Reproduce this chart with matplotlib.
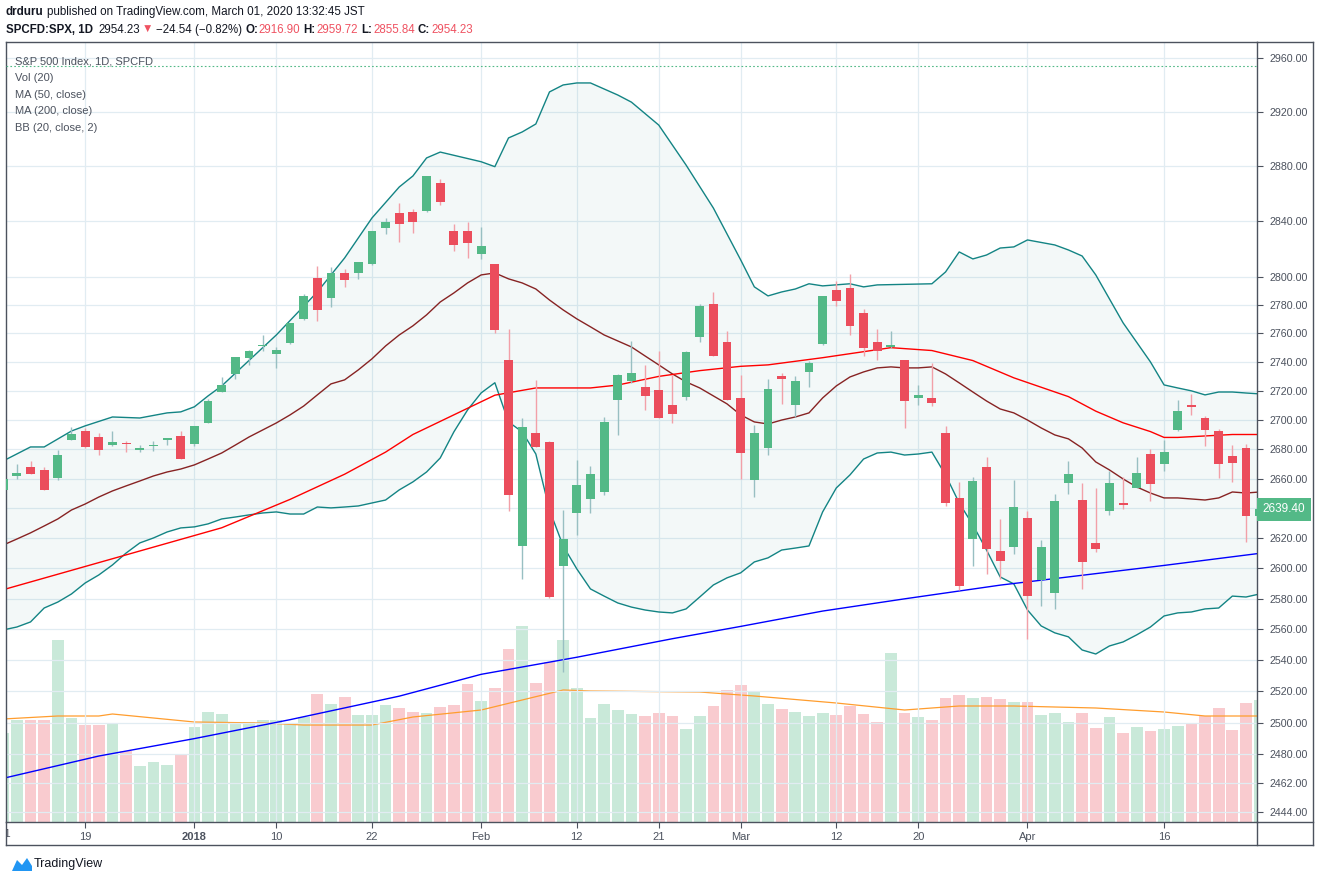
import numpy as np
import matplotlib.pyplot as plt
from matplotlib.lines import Line2D
from matplotlib.patches import Polygon
from matplotlib.transforms import Bbox, TransformedBbox, blended_transform_factory

FONT = ['Liberation Sans', 'DejaVu Sans']
plt.rcParams['font.family'] = FONT

# daily bars, Dec 11 2017 .. Apr 25 2018 (SPCFD:SPX)
opens = [2652.19, 2661.73, 2667.59, 2665.87, 2660.63, 2685.92, 2692.71, 2688.18, 2683.02, 2684.22,
         2679.09, 2682.10, 2686.10, 2689.15, 2683.73, 2697.85, 2719.31, 2731.33, 2742.67, 2751.15,
         2745.55, 2752.97, 2770.18, 2798.96, 2784.99, 2802.40, 2802.60, 2809.16, 2835.05, 2845.42,
         2846.24, 2847.48, 2867.23, 2832.74, 2832.41, 2816.45, 2808.92, 2741.06, 2614.78, 2690.95,
         2685.01, 2601.78, 2636.75, 2646.27, 2651.21, 2713.46, 2727.14, 2722.99, 2720.53, 2710.42,
         2715.80, 2757.37, 2780.45, 2753.78, 2715.22, 2658.89, 2681.06, 2730.18, 2710.18, 2732.75,
         2752.91, 2790.54, 2792.31, 2774.06, 2754.27, 2750.57, 2741.38, 2715.05, 2714.99, 2691.36,
         2646.71, 2619.35, 2667.57, 2611.30, 2614.41, 2633.45, 2592.17, 2584.04, 2657.36, 2645.82,
         2617.18, 2638.41, 2643.89, 2653.83, 2676.90, 2670.10, 2692.74, 2710.11, 2701.16, 2692.56,
         2675.40, 2680.80, 2634.92]
highs = [2660.33, 2669.72, 2671.88, 2668.09, 2679.63, 2694.97, 2694.44, 2691.01, 2692.64, 2685.35,
         2682.74, 2685.64, 2687.66, 2692.12, 2695.89, 2714.37, 2729.29, 2743.45, 2748.51, 2759.14,
         2750.80, 2767.56, 2787.85, 2807.54, 2807.04, 2805.83, 2810.33, 2833.03, 2842.24, 2852.97,
         2848.56, 2872.87, 2870.62, 2837.75, 2839.26, 2835.96, 2808.92, 2763.39, 2701.04, 2727.67,
         2685.27, 2638.67, 2672.61, 2668.84, 2702.10, 2731.51, 2754.42, 2737.60, 2747.75, 2731.26,
         2747.76, 2780.64, 2789.15, 2761.52, 2730.89, 2696.25, 2728.09, 2732.08, 2730.60, 2740.45,
         2786.57, 2796.98, 2801.90, 2777.11, 2763.03, 2761.85, 2741.38, 2724.22, 2739.14, 2695.68,
         2657.67, 2661.36, 2674.78, 2632.65, 2659.07, 2638.30, 2619.14, 2649.86, 2672.08, 2656.88,
         2653.55, 2665.45, 2661.43, 2674.72, 2680.26, 2686.49, 2713.34, 2717.49, 2702.84, 2693.94,
         2682.86, 2683.55, 2645.30]
lows = [2651.47, 2659.78, 2662.85, 2652.01, 2659.14, 2685.92, 2680.74, 2676.11, 2682.40, 2678.13,
        2677.96, 2678.91, 2682.69, 2673.61, 2682.36, 2697.77, 2719.07, 2727.92, 2737.60, 2747.86,
        2736.06, 2752.78, 2769.64, 2768.64, 2778.38, 2792.56, 2798.08, 2808.12, 2830.59, 2824.81,
        2830.94, 2846.18, 2851.48, 2818.27, 2813.04, 2812.70, 2759.97, 2638.17, 2593.07, 2681.33,
        2580.56, 2532.69, 2622.45, 2637.08, 2648.87, 2689.82, 2725.11, 2706.76, 2701.29, 2697.77,
        2713.74, 2753.78, 2744.22, 2713.54, 2659.65, 2647.32, 2675.75, 2711.26, 2701.74, 2722.65,
        2751.54, 2779.26, 2758.68, 2744.38, 2741.47, 2749.97, 2694.59, 2710.05, 2709.79, 2641.59,
        2585.89, 2601.81, 2596.12, 2593.06, 2609.72, 2553.80, 2575.49, 2573.61, 2649.58, 2586.27,
        2610.79, 2635.78, 2639.25, 2653.83, 2645.05, 2665.16, 2692.05, 2703.63, 2681.90, 2660.61,
        2657.99, 2617.32, 2612.67]
closes = [2659.99, 2664.11, 2662.85, 2652.01, 2675.81, 2690.16, 2681.47, 2679.25, 2684.57, 2683.34,
          2680.50, 2682.62, 2687.54, 2673.61, 2695.81, 2713.06, 2723.99, 2743.15, 2747.71, 2751.29,
          2748.23, 2767.56, 2786.24, 2776.42, 2802.56, 2798.03, 2810.30, 2832.97, 2839.13, 2837.54,
          2839.25, 2872.87, 2853.53, 2822.43, 2823.81, 2821.98, 2762.13, 2648.94, 2695.14, 2681.66,
          2581.00, 2619.55, 2656.00, 2662.94, 2698.63, 2731.20, 2732.22, 2716.26, 2701.33, 2703.96,
          2747.30, 2779.60, 2744.28, 2713.83, 2677.67, 2691.25, 2720.94, 2728.12, 2726.80, 2738.97,
          2786.57, 2783.02, 2765.31, 2749.48, 2747.33, 2752.01, 2712.92, 2716.94, 2711.93, 2643.69,
          2588.26, 2658.55, 2612.62, 2605.00, 2640.87, 2581.88, 2614.45, 2644.69, 2662.84, 2604.47,
          2613.16, 2656.87, 2642.19, 2663.99, 2656.30, 2677.84, 2706.39, 2708.64, 2693.13, 2670.14,
          2670.29, 2634.56, 2639.40]

# volume (relative units, no scale shown on chart)
volume = [44.5, 51, 51, 51, 91, 52, 48.5, 48.5, 49.5, 35.5, 28, 30, 28.5, 34, 47.5, 55, 54, 50, 50, 51,
          51, 49.5, 52.5, 64, 59, 62.5, 53.5, 53.5, 58.5, 57, 55, 54.5, 57.5, 58.5, 69, 60.5, 67, 86.5,
          98, 69.5, 80, 91, 67, 52, 59, 56, 54, 53, 54.5, 53, 46.5, 53, 58, 66, 68.5, 65.5, 59, 56.5,
          55, 53, 54.5, 53.5, 58, 54, 50, 84.5, 54.5, 52.5, 51, 62, 63.5, 62, 62.5, 61.5, 60, 60, 53.5,
          54.5, 50, 54.5, 47, 52.5, 44.5, 47.5, 45.5, 46.5, 48, 49, 53, 57, 46, 59.5, 61]
volma_idx = [0, 4, 7, 8, 14, 19, 22, 27, 30, 35, 38, 41, 43, 51, 55, 61, 66, 70, 74, 80, 85, 88, 92]
volma_val = [51.5, 53, 53, 54, 50, 49.5, 48.5, 48.5, 52.5, 56, 61, 66, 65.5, 65, 63, 59.5, 56, 58, 58,
             57, 55, 53, 53]

# moving averages
ma50_idx = [0, 16, 21, 25, 28, 30, 36, 39, 43, 45, 48, 51, 54, 56, 60, 65, 68, 71, 74, 78, 80, 82,
            84, 85, 86, 90, 92]
ma50_val = [2586, 2627, 2646, 2663, 2678, 2690, 2717, 2722, 2722, 2724, 2730, 2734, 2737, 2738, 2743,
            2750, 2748, 2741, 2729, 2716, 2706, 2698, 2692, 2688, 2688, 2690, 2690]
ma200_idx = [0, 7, 14, 21, 29, 35, 42, 49, 54, 60, 66, 73, 85, 92]
ma200_val = [2465, 2479, 2490, 2502, 2517, 2531, 2542, 2554, 2562, 2572, 2580, 2589, 2602, 2610]

# Bollinger bands (20, 2)
bbu_idx = [0, 2, 3, 5, 6, 8, 10, 12, 13, 14, 15, 16, 20, 23, 25, 27, 29, 30, 31, 32, 35, 36, 37, 38,
           39, 40, 41, 42, 43, 45, 46, 48, 50, 52, 54, 55, 56, 57, 58, 59, 60, 62, 63, 64, 68, 69, 70,
           71, 72, 73, 74, 75, 77, 78, 79, 80, 82, 84, 85, 86, 87, 88, 89, 90, 91, 92]
bbu_val = [2672.0, 2681.5, 2681.5, 2692.4, 2695.9, 2702.0, 2701.3, 2704.8, 2705.5, 2709.0, 2716.5,
           2723.4, 2758.9, 2789.2, 2813.4, 2842.1, 2864.6, 2872.6, 2885.8, 2890.1, 2883.0, 2879.4,
           2900.5, 2904.9, 2910.8, 2934.6, 2939.8, 2941.3, 2941.3, 2932.3, 2927.0, 2910.0, 2880.6,
           2849.3, 2812.0, 2792.8, 2786.4, 2789.2, 2791.3, 2795.0, 2793.5, 2795.0, 2792.8, 2794.2,
           2795.0, 2803.4, 2817.7, 2812.7, 2815.5, 2820.5, 2821.3, 2826.3, 2822.7, 2819.1, 2814.8,
           2801.3, 2767.4, 2740.1, 2724.1, 2722.0, 2720.0, 2717.2, 2719.2, 2719.2, 2718.5, 2717.9]
bbl_val = [2559.7, 2561.6, 2564.9, 2574.0, 2577.9, 2583.2, 2590.4, 2595.7, 2602.3, 2610.2, 2616.9,
           2620.2, 2624.2, 2626.9, 2627.6, 2629.6, 2632.9, 2634.2, 2635.6, 2636.9, 2637.6, 2636.2,
           2636.2, 2640.9, 2640.3, 2640.9, 2641.6, 2643.6, 2645.6, 2652.4, 2657.8, 2664.5, 2674.0,
           2691.8, 2706.8, 2718.6, 2725.6, 2698.6, 2691.8, 2676.7, 2638.9, 2614.9, 2599.7, 2586.5,
           2581.8, 2577.3, 2574.6, 2572.7, 2571.4, 2570.8, 2573.4, 2581.2, 2589.1, 2593.8, 2597.1,
           2604.3, 2607.0, 2612.2, 2613.5, 2614.9, 2637.6, 2653.7, 2662.5, 2673.3, 2677.4, 2678.0,
           2676.0, 2676.7, 2678.0, 2662.5, 2643.6, 2628.9, 2612.2, 2594.4, 2589.8, 2572.7, 2562.3,
           2557.8, 2555.2, 2546.7, 2544.1, 2549.3, 2551.9, 2556.5, 2561.6, 2568.8, 2570.8, 2571.4,
           2573.4, 2574.0, 2581.8, 2581.2, 2583.2]
bbm_val = [2615.5, 2619.5, 2623.6, 2628.2, 2632.9, 2638.9, 2642.9, 2647.6, 2651.7, 2655.1, 2658.4,
           2661.8, 2664.5, 2666.5, 2669.3, 2673.3, 2677.4, 2682.8, 2688.3, 2693.1, 2697.9, 2703.4,
           2709.5, 2717.2, 2724.8, 2727.6, 2734.5, 2742.2, 2751.2, 2758.9, 2765.3, 2773.0, 2782.1,
           2788.5, 2795.6, 2801.3, 2802.7, 2798.5, 2795.6, 2791.3, 2783.5, 2776.5, 2770.2, 2764.6,
           2758.9, 2754.7, 2750.5, 2744.2, 2738.0, 2731.7, 2726.2, 2722.0, 2716.5, 2711.0, 2703.4,
           2698.6, 2697.2, 2699.9, 2702.0, 2704.8, 2715.1, 2723.4, 2729.6, 2733.1, 2735.9, 2736.6,
           2735.9, 2735.9, 2736.6, 2731.7, 2725.5, 2719.2, 2713.0, 2707.5, 2704.8, 2699.9, 2694.5,
           2689.7, 2687.0, 2680.8, 2671.3, 2665.9, 2659.8, 2654.4, 2650.3, 2647.0, 2647.0, 2646.3,
           2645.6, 2647.0, 2651.0, 2650.3, 2651.0]

tick_idx = [6, 14, 20, 27, 35, 42, 48, 54, 61, 67, 75, 85]
tick_lbl = ['19', '2018', '10', '22', 'Feb', '12', '21', 'Mar', '12', '20', 'Apr', '16']
price_ticks = [2444, 2462, 2480, 2500, 2520, 2540, 2560, 2580, 2600, 2620, 2660, 2680, 2700, 2720,
               2740, 2760, 2780, 2800, 2840, 2880, 2920, 2960]
grid_levels = price_ticks + [2640]

UP, DN = '#53b987', '#eb4d5c'
TXT = '#4c525e'
W, H = 1320, 883

fig = plt.figure(figsize=(W / 100, H / 100), dpi=100)
rect = [6 / W, (H - 822) / H, 1251 / W, 780 / H]
axv = fig.add_axes(rect)
ax = fig.add_axes(rect, sharex=axv)
ax.patch.set_visible(False)

n = len(closes)
x = np.arange(n)
o, h, l, c = map(np.array, (opens, highs, lows, closes))
up = c >= o

# volume
axv.bar(x, volume, width=0.86, color=np.where(up, '#c9e9d9', '#f9cbcf'), zorder=1)
axv.plot(volma_idx, volma_val, color='#ff9d2e', lw=0.9, zorder=2)
axv.set_ylim(0, 390)
axv.set_yticks([])
for s in axv.spines.values():
    s.set_visible(False)

# grid
for g in grid_levels:
    ax.axhline(g, color='#e1ecf2', lw=0.9, zorder=0)
for t in tick_idx:
    ax.axvline(t, color='#e1ecf2', lw=0.9, zorder=0)

# bollinger bands
bbl_idx = list(range(n))
ax.fill(np.concatenate([bbu_idx, bbl_idx[::-1]]), np.concatenate([bbu_val, bbl_val[::-1]]),
        color='#198884', alpha=0.05, lw=0, zorder=1)
ax.plot(bbu_idx, bbu_val, color='#138484', lw=1, zorder=2)
ax.plot(bbl_idx, bbl_val, color='#138484', lw=1, zorder=2)
ax.plot(bbl_idx, bbm_val, color='#872323', lw=1, zorder=2)
ax.plot(ma50_idx, ma50_val, color='#ff0000', lw=1, zorder=2)
ax.plot(ma200_idx, ma200_val, color='#0000ff', lw=1, zorder=2)

# candles
ax.vlines(x, l, h, colors=np.where(up, '#98bfc2', '#f2a0a8'), lw=1, zorder=3)
body = np.maximum(np.abs(c - o), 0.7)
ax.bar(x, body, bottom=np.minimum(o, c), width=0.65, color=np.where(up, UP, DN), zorder=4)

ax.axhline(2954.23, color=UP, lw=0.8, ls=(0, (1.5, 2)), zorder=3)

ax.set_yscale('log')
ax.set_ylim(2437.8, 2972.06)
ax.set_xlim(0.205, 91.805)
ax.yaxis.tick_right()
ax.set_yticks(price_ticks)
ax.set_yticklabels(['%.2f' % v for v in price_ticks])
ax.yaxis.set_minor_locator(plt.NullLocator())
ax.tick_params(axis='y', length=4, pad=5, labelsize=7.7, colors=TXT, width=0.8)
ax.set_xticks(tick_idx)
ax.set_xticklabels(tick_lbl)
ax.tick_params(axis='x', length=4, pad=3, labelsize=8, colors=TXT, width=0.8)
ax.get_xticklabels()[1].set_fontweight('bold')
axv.tick_params(axis='x', length=0, labelbottom=False)
for s in ax.spines.values():
    s.set_color(TXT)
    s.set_linewidth(1)

# cut-off first date label
t0 = ax.text(0.15, -0.009, '11', transform=blended_transform_factory(ax.transData, ax.transAxes),
             ha='center', va='top', fontsize=8, color=TXT)
t0.set_clip_box(TransformedBbox(Bbox([[6.5 / W, 38 / H], [1257 / W, 61 / H]]), fig.transFigure))
t0.set_clip_on(True)

# last price label
ax.annotate('2639.40', xy=(1.0045, 2639.40), xycoords=('axes fraction', 'data'), ha='left',
            va='center', fontsize=8.5, color='white',
            bbox=dict(boxstyle='square,pad=0.45', fc=UP, ec='none'))

# outer frame
for xs, ys in [([6, 1313], [845, 845]), ([1313, 1313], [42, 845]), ([6, 6], [822, 845]),
               ([1257, 1313], [42, 42]), ([1257, 1313], [822, 822]), ([1257, 1257], [822, 845])]:
    fig.add_artist(Line2D([v / W for v in xs], [1 - v / H for v in ys], color=TXT, lw=1))

# legend in pane
for i, s in enumerate(['S&P 500 Index, 1D, SPCFD', 'Vol (20)', 'MA (50, close)',
                       'MA (200, close)', 'BB (20, close, 2)']):
    fig.text(15 / W, 1 - (61 + i * 16.8) / H, s, fontsize=8, color=TXT, va='center')

# header
renderer = fig.canvas.get_renderer()


def seq(x0, y0, parts, size):
    xp = x0
    for s, col, wt, gap in parts:
        t = fig.text(xp / W, 1 - y0 / H, s, fontsize=size, color=col, fontweight=wt, va='center')
        xp += t.get_window_extent(renderer).width + gap


RED = '#ef5261'
seq(6, 12, [('drduru', '#131722', 'bold', 3),
            ('published on TradingView.com, March 01, 2020 13:32:45 JST', '#131722', 'normal', 0)], 8.4)
seq(6, 30, [('SPCFD:SPX, 1D', '#131722', 'bold', 5), ('2954.23', '#131722', 'normal', 2),
            ('\u25bc', RED, 'normal', 3), ('\u221224.54 (\u22120.82%)', '#131722', 'normal', 3),
            ('O:', '#131722', 'bold', 1), ('2916.90', RED, 'normal', 3),
            ('H:', '#131722', 'bold', 1), ('2959.72', RED, 'normal', 3),
            ('L:', '#131722', 'bold', 1), ('2855.84', RED, 'normal', 3),
            ('C:', '#131722', 'bold', 1), ('2954.23', RED, 'normal', 0)], 8.3)

# logo
fig.add_artist(Polygon([[12 / W, 1 - 871 / H], [17 / W, 1 - 860 / H], [22 / W, 1 - 865 / H],
                        [27 / W, 1 - 858 / H], [32 / W, 1 - 866 / H], [32 / W, 1 - 871 / H]],
                       closed=True, fc='#2196f3', ec='none', transform=fig.transFigure))
fig.text(34 / W, 1 - 864 / H, 'TradingView', fontsize=9, color='#131722', va='center')

fig.savefig('out.png', dpi=100)
